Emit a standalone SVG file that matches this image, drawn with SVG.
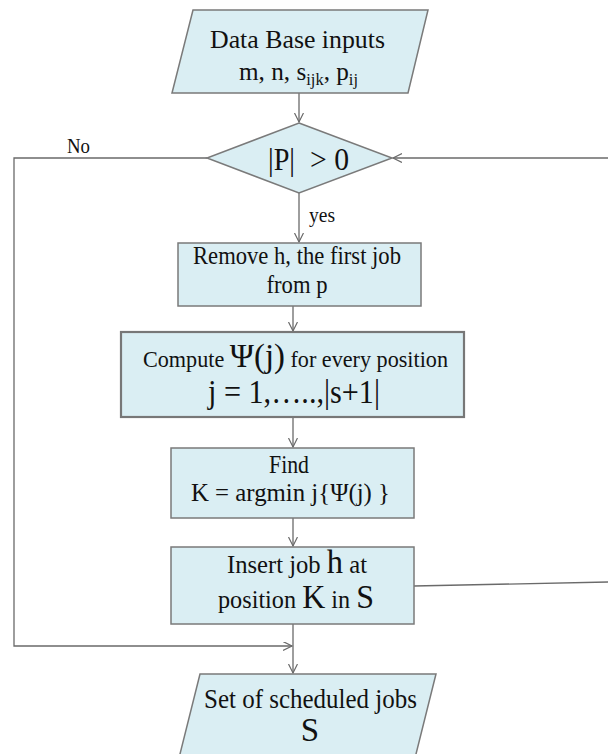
<svg xmlns="http://www.w3.org/2000/svg" width="608" height="754" viewBox="0 0 608 754">
<style>
.shape{fill:#DAEEF3;stroke:#7a7a7a;stroke-width:1.5}
.thick{stroke-width:2.2;stroke:#777}
.t{font-family:"Liberation Serif","Times New Roman",serif;fill:#111}
.c{fill:none;stroke:#6a6a6a;stroke-width:1.3}
</style>
<defs>
<marker id="arr" markerWidth="12" markerHeight="12" refX="9" refY="4.5" orient="auto" markerUnits="userSpaceOnUse">
<path d="M0,0 L9,4.5 L0,9" fill="none" stroke="#6a6a6a" stroke-width="1.2"/>
</marker>
</defs>
<rect width="608" height="754" fill="#fff"/>
<g id="connectors">
<line class="c" x1="299" y1="93" x2="299" y2="122" marker-end="url(#arr)"/>
<line class="c" x1="608" y1="158" x2="393" y2="158" marker-end="url(#arr)"/>
<line class="c" x1="299" y1="193" x2="299" y2="242" marker-end="url(#arr)"/>
<line class="c" x1="293" y1="306" x2="293" y2="331" marker-end="url(#arr)"/>
<line class="c" x1="293" y1="417" x2="293" y2="447" marker-end="url(#arr)"/>
<line class="c" x1="293" y1="518" x2="293" y2="546" marker-end="url(#arr)"/>
<line class="c" x1="293" y1="624" x2="293" y2="673" marker-end="url(#arr)"/>
<polyline class="c" points="207,158 14,158 14,646 292,646" marker-end="url(#arr)"/>
<line class="c" x1="414" y1="586" x2="608" y2="582"/>
<text class="t" x="67" y="153" font-size="20" textLength="23" lengthAdjust="spacingAndGlyphs">No</text>
<text class="t" x="309" y="222" font-size="20" textLength="26" lengthAdjust="spacingAndGlyphs">yes</text>
</g>
<g id="input">
<polygon class="shape" points="193,10 428,10 408,93 172,93"/>
<text class="t" x="210" y="48" font-size="26" textLength="175" lengthAdjust="spacingAndGlyphs">Data Base inputs</text>
<text class="t" x="239" y="80" font-size="26" textLength="119" lengthAdjust="spacingAndGlyphs">m, n, s<tspan font-size="17" dy="5">ijk</tspan><tspan dy="-5">, p</tspan><tspan font-size="17" dy="5">ij</tspan></text>
</g>
<g id="decision">
<polygon class="shape" points="299,123 392,158 299,193 207,158"/>
<text class="t" x="268" y="170" font-size="32" textLength="27" lengthAdjust="spacingAndGlyphs">|P|</text>
<text class="t" x="310" y="170" font-size="32" textLength="39" lengthAdjust="spacingAndGlyphs">&gt; 0</text>
</g>
<g id="remove">
<rect class="shape" x="178" y="243" width="243" height="63"/>
<text class="t" x="297" y="264" font-size="26" text-anchor="middle" textLength="208" lengthAdjust="spacingAndGlyphs">Remove h, the first job</text>
<text class="t" x="297" y="293" font-size="26" text-anchor="middle" textLength="61" lengthAdjust="spacingAndGlyphs">from p</text>
</g>
<g id="compute">
<rect class="shape thick" x="121" y="332" width="343" height="85"/>
<text class="t" x="143" y="367" font-size="23" textLength="305" lengthAdjust="spacingAndGlyphs">Compute <tspan font-size="34">Ψ(j)</tspan> for every position</text>
<text class="t" x="208" y="403" font-size="33" textLength="172" lengthAdjust="spacingAndGlyphs">j = 1,…..,|s+1|</text>
</g>
<g id="find">
<rect class="shape" x="171" y="448" width="243" height="70"/>
<text class="t" x="269" y="473" font-size="25" textLength="40" lengthAdjust="spacingAndGlyphs">Find</text>
<text class="t" x="191" y="501" font-size="26" textLength="199" lengthAdjust="spacingAndGlyphs">K = argmin j{Ψ(j) }</text>
</g>
<g id="insert">
<rect class="shape" x="171" y="547" width="243" height="77"/>
<text class="t" x="227" y="573" font-size="25" textLength="140" lengthAdjust="spacingAndGlyphs">Insert job <tspan font-size="33">h</tspan> at</text>
<text class="t" x="218" y="608" font-size="25" textLength="156" lengthAdjust="spacingAndGlyphs">position <tspan font-size="33">K</tspan> in <tspan font-size="33">S</tspan></text>
</g>
<g id="output">
<polygon class="shape" points="200,674 436,674 415,758 179,758"/>
<text class="t" x="204" y="708" font-size="27" textLength="213" lengthAdjust="spacingAndGlyphs">Set of scheduled jobs</text>
<text class="t" x="310" y="741" font-size="33" text-anchor="middle">S</text>
</g>
</svg>
